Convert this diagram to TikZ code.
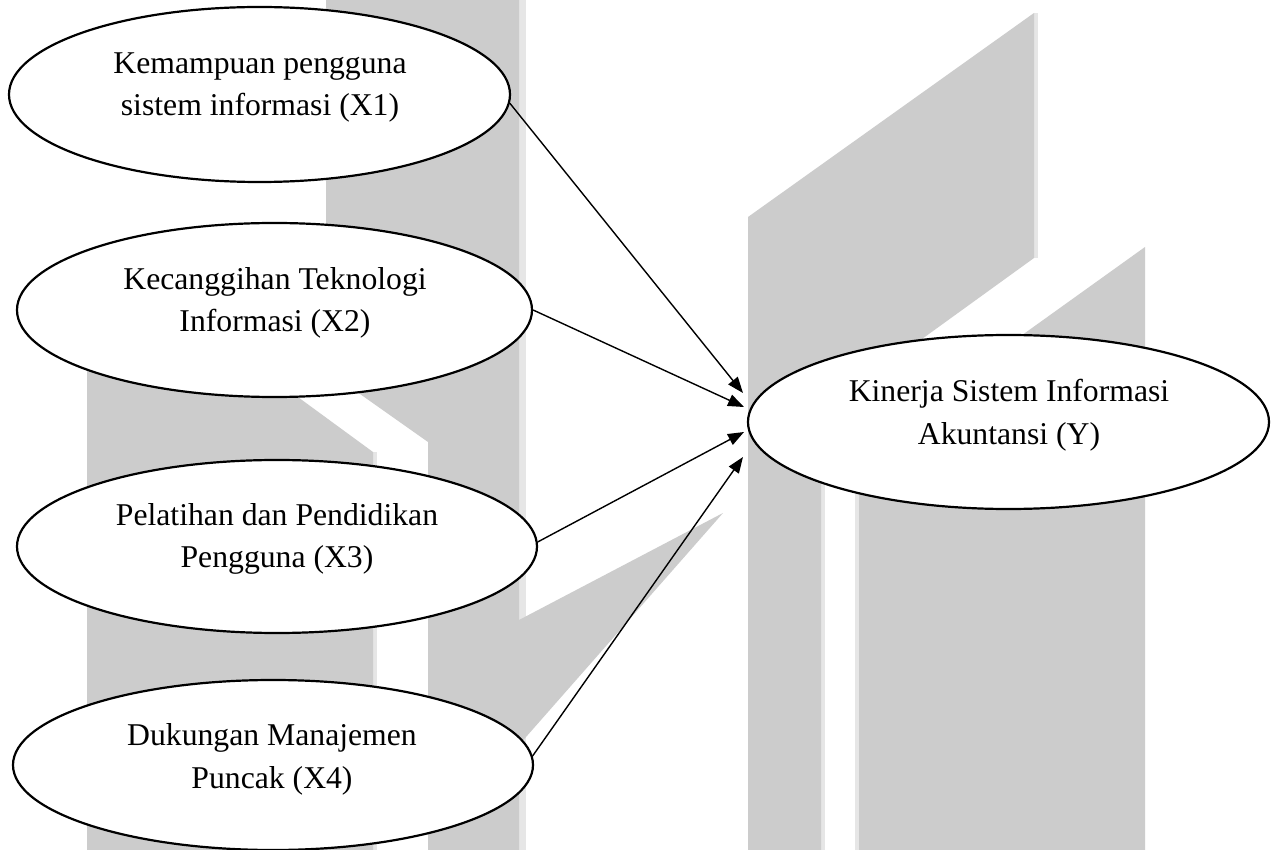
\documentclass[tikz,border=0pt]{standalone}
\usepackage{fontspec}
\setmainfont{Liberation Serif}
\usetikzlibrary{arrows.meta,shapes.geometric}
\definecolor{wm}{HTML}{CCCCCC}
\definecolor{wmlight}{HTML}{E6E6E6}
\begin{document}
\begin{tikzpicture}[x=1pt,y=-1pt,
  var/.style={ellipse, draw=black, line width=2.2pt, fill=white, inner sep=0pt},
  lbl/.style={anchor=base, inner sep=0pt, font=\fontsize{31.7pt}{38pt}\selectfont},
  conn/.style={line width=1.4pt, -{Triangle[length=16pt,width=12pt]}},
  wmark/.style={fill=wm, draw=none},
  wmedge/.style={fill=wmlight, draw=none}]
\useasboundingbox (0,0) rectangle (1278,850);
\fill[white] (0,0) rectangle (1278,850);
% watermark: light edges
\path[wmedge] (519,0) rectangle (526,850);
\path[wmedge] (373,452) rectangle (377,850);
\path[wmedge] (1034,13) rectangle (1038,258);
\path[wmedge] (821,412) rectangle (825,850);
\path[wmedge] (855,455) rectangle (859,850);
% watermark: shapes
\path[wmark] (87,340) -- (276,381) -- (373,452) -- (373,850) -- (87,850) -- cycle;
\path[wmark] (326,0) -- (519,0) -- (519,850) -- (428,850) -- (428,442) -- (326,370) -- cycle;
\path[wmark] (519,620) -- (723,513) -- (526,737) -- (519,745) -- cycle;
\path[wmark] (748,217) -- (1034,13) -- (1034,258) -- (821,412) -- (821,850) -- (748,850) -- cycle;
\path[wmark] (859,452) -- (1145,247) -- (1145,850) -- (859,850) -- cycle;
% nodes
\node[var, minimum width=501pt, minimum height=175pt] (x1) at (259.5,94.5) {};
\node[var, minimum width=515pt, minimum height=174pt] (x2) at (274.5,310) {};
\node[var, minimum width=520pt, minimum height=173pt] (x3) at (277,546.5) {};
\node[var, minimum width=520pt, minimum height=170pt] (x4) at (273,765) {};
\node[var, minimum width=521pt, minimum height=174pt] (y) at (1008.5,422) {};
% labels
\node[lbl] (x1a) at (260,74) {Kemampuan pengguna};
\node[lbl] (x1b) at (260,116) {sistem informasi (X1)};
\node[lbl] (x2a) at (275,290) {Kecanggihan Teknologi};
\node[lbl] (x2b) at (275,332) {Informasi (X2)};
\node[lbl] (x3a) at (277,525) {Pelatihan dan Pendidikan};
\node[lbl] (x3b) at (277,567) {Pengguna (X3)};
\node[lbl] (x4a) at (272,745) {Dukungan Manajemen};
\node[lbl] (x4b) at (272,788) {Puncak (X4)};
\node[lbl] (ya) at (1009,402) {Kinerja Sistem Informasi};
\node[lbl] (yb) at (1009,445) {Akuntansi (Y)};
% arrow tips
\coordinate (t1) at (743,393);
\coordinate (t2) at (744,407);
\coordinate (t3) at (744,432);
\coordinate (t4) at (743,457);
\draw[conn] (x1.-2) -- (t1);
\draw[conn] (x2.-0.5) -- (t2);
\draw[conn] (x3.1.5) -- (t3);
\draw[conn] (x4.2.2) -- (t4);
\end{tikzpicture}
\end{document}
